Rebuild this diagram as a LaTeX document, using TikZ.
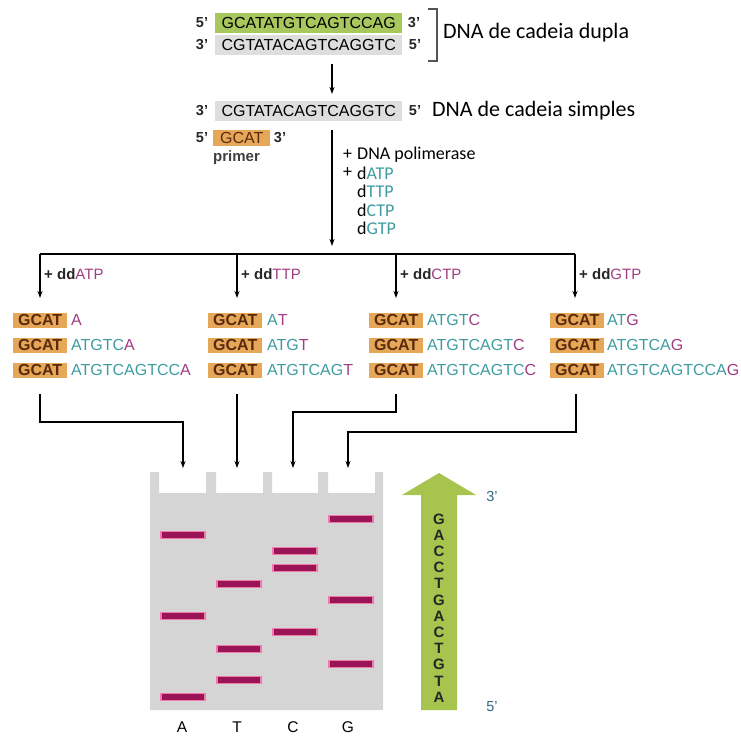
\documentclass[tikz,border=0pt]{standalone}
\usepackage{fontspec}
\setmainfont{Liberation Sans}
\newfontfamily\carl{Carlito}
\usetikzlibrary{arrows.meta}
\definecolor{boxgreen}{HTML}{A8C75C}
\definecolor{boxgrey}{HTML}{DEDEDE}
\definecolor{boxorange}{HTML}{E6A858}
\definecolor{gcatbrown}{HTML}{5A2A0C}
\definecolor{teal1}{HTML}{3E9CA0}
\definecolor{purp}{HTML}{A03C82}
\definecolor{gelgrey}{HTML}{D5D5D5}
\definecolor{band}{HTML}{9C1458}
\definecolor{bandglow}{HTML}{F07CAC}
\definecolor{arrgreen}{HTML}{A6C44E}
\definecolor{endlab}{HTML}{2C6A84}
\definecolor{brk}{HTML}{555555}
\tikzset{
  lab/.style={inner sep=0pt, font=\bfseries\fontsize{14.5}{17}\selectfont, text=black!85},
  seqbox/.style={inner sep=0pt, minimum height=20, minimum width=187, anchor=west, font=\fontsize{16}{18}\selectfont},
  greenbox/.style={seqbox, fill=boxgreen},
  greybox/.style={seqbox, fill=boxgrey},
  gcat/.style={inner sep=0pt, minimum width=54, minimum height=15, anchor=west, fill=boxorange, text=gcatbrown, font=\bfseries\fontsize{16}{18}\selectfont},
  frag/.style={inner sep=0pt, anchor=west, text=teal1, font=\fontsize{16}{18}\selectfont},
  big/.style={inner sep=0pt, anchor=west, font=\carl\fontsize{22}{24}\selectfont},
  mix/.style={inner sep=0pt, anchor=west, font=\carl\fontsize{18}{20}\selectfont},
  ddlab/.style={inner sep=0pt, anchor=west, font=\fontsize{15}{18}\selectfont, text=black!85},
  conn/.style={line width=1.5pt, black},
  arr/.style={conn, -{Stealth[length=7pt,width=5pt]}},
  bandst/.style={fill=band, draw=bandglow, line width=1.2pt},
  seqlet/.style={inner sep=0pt, font=\bfseries\fontsize{15}{16}\selectfont, text=black!85},
  endst/.style={inner sep=0pt, font=\fontsize{14.5}{16}\selectfont, text=endlab},
  lanelab/.style={inner sep=0pt, font=\fontsize{15.5}{17}\selectfont}
}
\begin{document}
\begin{tikzpicture}[x=1pt,y=-1pt]
\useasboundingbox (0,0) rectangle (741,737);
% top double strand
\node[lab] (p5a) at (202,23) {5'};
\node[greenbox] (s1) at (215,23) {GCATATGTCAGTCCAG};
\node[lab] (p3a) at (414,23) {3'};
\node[lab] (p3b) at (202,45) {3'};
\node[greybox] (s2) at (215,45) {CGTATACAGTCAGGTC};
\node[lab] (p5b) at (415,45) {5'};
\draw[brk, line width=1.4pt] (428,9) -- (437,9) -- (437,61) -- (428,61);
\node[big] (dupla) at (443,33) {DNA de cadeia dupla};
\coordinate (ta1) at (332,64);
\coordinate (ta2) at (332,94);
\draw[arr] (ta1) -- (ta2);
% single strand
\node[lab] (p3c) at (202,111) {3'};
\node[greybox] (s3) at (215,111) {CGTATACAGTCAGGTC};
\node[lab] (p5c) at (415,111) {5'};
\node[big] (simples) at (432,111) {DNA de cadeia simples};
\node[lab] (p5d) at (202,138) {5'};
\node[gcat, minimum width=57, minimum height=16, font=\fontsize{16}{18}\selectfont] (prim) at (213,138) {GCAT\hspace{8pt}};
\node[lab] (p3d) at (280,138) {3'};
\node[inner sep=0pt, anchor=west, font=\bfseries\fontsize{15}{17}\selectfont, text=black!75] (primer) at (213,158) {primer};
% reagents
\coordinate (ma1) at (332,130);
\coordinate (ma2) at (332,246);
\draw[arr] (ma1) -- (ma2);
\node[mix] (pl1) at (343,155) {+};
\node[mix] (pol) at (357,155) {DNA polimerase};
\node[mix] (pl2) at (343,173) {+};
\node[mix] (d1) at (357,173) {d\textcolor{teal1}{ATP}};
\node[mix] (d2) at (357,191) {d\textcolor{teal1}{TTP}};
\node[mix] (d3) at (357,210) {d\textcolor{teal1}{CTP}};
\node[mix] (d4) at (357,228) {d\textcolor{teal1}{GTP}};
% distribution bar
\coordinate (hA) at (40,254);
\coordinate (hT) at (237,254);
\coordinate (hC) at (396,254);
\coordinate (hG) at (575,254);
\draw[conn] (hA) -- (hG);
\coordinate (vA) at (40,298);
\coordinate (vT) at (237,298);
\coordinate (vC) at (396,298);
\coordinate (vG) at (575,298);
\draw[arr] (hA) -- (vA);
\draw[arr] (hT) -- (vT);
\draw[arr] (hC) -- (vC);
\draw[arr] (hG) -- (vG);
\node[ddlab] (ddA) at (44,274) {\textbf{+ dd}\textcolor{purp}{ATP}};
\node[ddlab] (ddT) at (241,274) {\textbf{+ dd}\textcolor{purp}{TTP}};
\node[ddlab] (ddC) at (400,274) {\textbf{+ dd}\textcolor{purp}{CTP}};
\node[ddlab] (ddG) at (579,274) {\textbf{+ dd}\textcolor{purp}{GTP}};
% fragments column A
\node[gcat] (a1) at (13,320) {GCAT};
\node[frag] (fa1) at (71,320) {\textcolor{purp}{A}};
\node[gcat] (a2) at (13,345) {GCAT};
\node[frag] (fa2) at (71,345) {ATGTC\textcolor{purp}{A}};
\node[gcat] (a3) at (13,370) {GCAT};
\node[frag] (fa3) at (71,370) {ATGTCAGTCC\textcolor{purp}{A}};
% column T
\node[gcat] (t1) at (208,320) {GCAT};
\node[frag] (ft1) at (267,320) {A\textcolor{purp}{T}};
\node[gcat] (t2) at (208,345) {GCAT};
\node[frag] (ft2) at (267,345) {ATG\textcolor{purp}{T}};
\node[gcat] (t3) at (208,370) {GCAT};
\node[frag] (ft3) at (267,370) {ATGTCAG\textcolor{purp}{T}};
% column C
\node[gcat] (c1) at (369,320) {GCAT};
\node[frag] (fc1) at (427,320) {ATGT\textcolor{purp}{C}};
\node[gcat] (c2) at (369,345) {GCAT};
\node[frag] (fc2) at (427,345) {ATGTCAGT\textcolor{purp}{C}};
\node[gcat] (c3) at (369,370) {GCAT};
\node[frag] (fc3) at (427,370) {ATGTCAGTC\textcolor{purp}{C}};
% column G
\node[gcat] (g1) at (550,320) {GCAT};
\node[frag] (fg1) at (607,320) {AT\textcolor{purp}{G}};
\node[gcat] (g2) at (550,345) {GCAT};
\node[frag] (fg2) at (607,345) {ATGTCA\textcolor{purp}{G}};
\node[gcat] (g3) at (550,370) {GCAT};
\node[frag] (fg3) at (607,370) {ATGTCAGTCCA\textcolor{purp}{G}};
% routing to gel
\coordinate (wA) at (183,468);
\coordinate (wT) at (237,468);
\coordinate (wC) at (293,468);
\coordinate (wG) at (348,468);
\coordinate (rA) at (40,394);
\coordinate (rT) at (237,394);
\coordinate (rC) at (396,394);
\coordinate (rG) at (576,394);
\draw[arr] (rA) |- (183,422) -- (wA);
\draw[arr] (rT) -- (wT);
\draw[arr] (rC) |- (293,412) -- (wC);
\draw[arr] (rG) |- (348,432) -- (wG);
% gel
\fill[gelgrey] (150,710) -- (150,472) -- (159,472) -- (159,493) -- (206,493) -- (206,472) -- (216,472) -- (216,493) -- (263,493) -- (263,472) -- (272,472) -- (272,493) -- (318,493) -- (318,472) -- (328,472) -- (328,493) -- (375,493) -- (375,472) -- (383,472) -- (383,710) -- cycle;
\foreach \yy in {535,616,697} \filldraw[bandst] (161,\yy-3.5) rectangle (205,\yy+3.5);
\foreach \yy in {584,649,680} \filldraw[bandst] (217,\yy-3.5) rectangle (261,\yy+3.5);
\foreach \yy in {551,568,632} \filldraw[bandst] (273,\yy-3.5) rectangle (317,\yy+3.5);
\foreach \yy in {519,600,664} \filldraw[bandst] (329,\yy-3.5) rectangle (373,\yy+3.5);
\node[lanelab] (lA) at (182,727) {A};
\node[lanelab] (lT) at (237,727) {T};
\node[lanelab] (lC) at (293,727) {C};
\node[lanelab] (lG) at (348,727) {G};
% green arrow
\fill[arrgreen] (421,710) -- (421,495) -- (402,495) -- (439,473) -- (476,495) -- (457,495) -- (457,710) -- cycle;
\foreach \ch [count=\i] in {G,A,C,C,T,G,A,C,T,G,T,A}
  \node[seqlet] (L\i) at (439,{519+16.2*(\i-1)}) {\ch};
\node[endst] (e3) at (492,496) {3'};
\node[endst] (e5) at (492,707) {5'};
\end{tikzpicture}
\end{document}
